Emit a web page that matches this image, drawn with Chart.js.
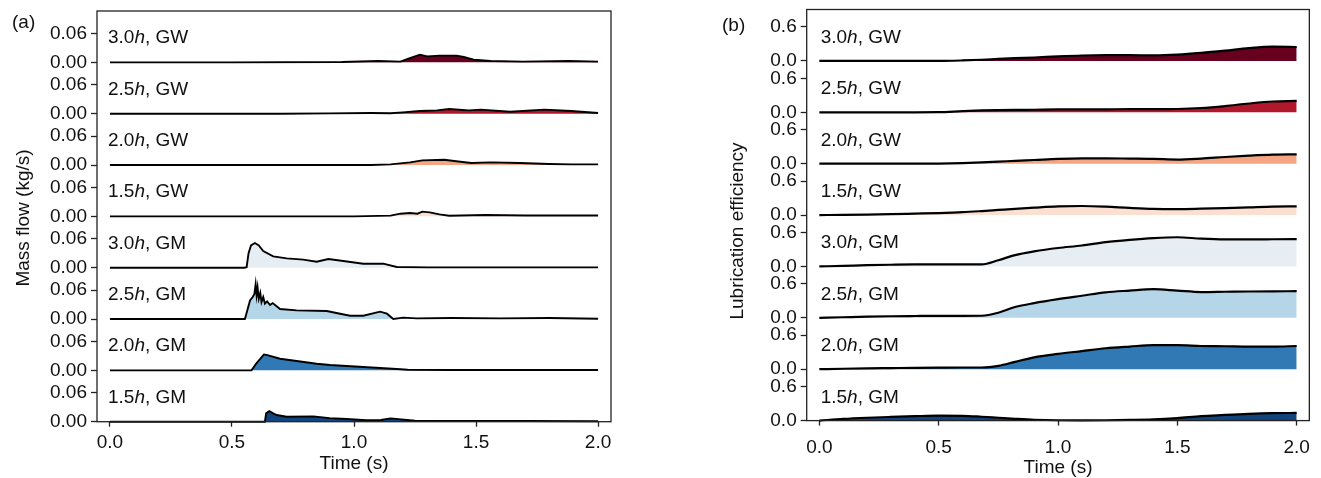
<!DOCTYPE html>
<html>
<head>
<meta charset="utf-8">
<script src="https://cdn.jsdelivr.net/npm/chart.js@4.4.1/dist/chart.umd.min.js"></script>
<style>
  html,body{margin:0;padding:0;background:#fff;}
  #wrap{position:relative;width:1321px;height:478px;overflow:hidden;}
  .panel{position:absolute;top:0;height:478px;}
  #pa{left:0;width:700px;}
  #pb{left:700px;width:621px;}
</style>
</head>
<body>
<div id="wrap">
  <div class="panel" id="pa"><canvas id="flowChart"></canvas></div>
  <div class="panel" id="pb"><canvas id="effChart"></canvas></div>
</div>
<script>
// rows from top to bottom
const rowCases=['3.0','2.5','2.0','1.5','3.0','2.5','2.0','1.5'];
const rowKinds=['GW','GW','GW','GW','GM','GM','GM','GM'];
const rowColors=['#67001f','#b2182b','#f4a582','#fbe0d1','#e6eef3','#b5d6e8','#3179b5','#12447f'];

const timeTicks=[0,0.5,1.0,1.5,2.0];
const flowTicks=[0,0.06];
const effTicks=[0,0.6];

// (a) mass flow (kg/s)
const flowGW30T=[0,0.5,0.95,1.1,1.19,1.22,1.25,1.27,1.3,1.35,1.42,1.45,1.49,1.56,1.69,1.88,2.0];
const flowGW30V=[0,0,0.0007,0.0028,0.0014,0.0069,0.0124,0.0159,0.0124,0.0138,0.0138,0.011,0.0055,0.0028,0.0014,0.0028,0.0014];
const flowGW25T=[0,0.7,0.9,1.07,1.15,1.2,1.27,1.34,1.39,1.47,1.52,1.64,1.78,1.89,2.0];
const flowGW25V=[0,0,0.0007,0.0014,0.001,0.0028,0.0055,0.0069,0.0097,0.0069,0.0083,0.0041,0.0083,0.0055,0.0014];
const flowGW20T=[0,1.07,1.15,1.23,1.28,1.37,1.41,1.48,1.56,1.68,1.8,1.89,2.0];
const flowGW20V=[0,0,0.0014,0.0055,0.0097,0.011,0.0083,0.0041,0.0055,0.0041,0.002,0.0014,0.0014];
const flowGW15T=[0,1.0,1.15,1.19,1.23,1.26,1.28,1.31,1.35,1.39,1.54,1.7,2.0];
const flowGW15V=[0,0,0.0014,0.0055,0.007,0.0055,0.0097,0.0083,0.0041,0.0014,0.0028,0.0017,0.0017];
const flowGM30T=[0,0.55,0.56,0.568,0.578,0.594,0.61,0.628,0.669,0.724,0.792,0.847,0.895,0.956,1.038,1.12,1.175,1.3,2.0];
const flowGM30V=[0,0,0.001,0.03,0.046,0.051,0.046,0.0345,0.0234,0.0193,0.0166,0.0124,0.018,0.0138,0.0083,0.0083,0.0014,0.0007,0.0007];
const flowGM25T=[0,0.553,0.563,0.574,0.585,0.592,0.597,0.601,0.605,0.61,0.616,0.621,0.628,0.635,0.644,0.656,0.667,0.697,0.765,0.888,0.943,0.984,1.038,1.107,1.135,1.161,1.202,1.257,1.4,1.6,1.8,2.0];
const flowGM25V=[0,0,0.018,0.0386,0.0455,0.052,0.0717,0.049,0.065,0.042,0.054,0.035,0.0455,0.032,0.0366,0.029,0.033,0.0207,0.018,0.0166,0.011,0.0069,0.0069,0.0152,0.011,0,0.0028,0.0014,0.0021,0.0014,0.0021,0.0007];
const flowGM20T=[0,0.58,0.601,0.631,0.645,0.697,0.765,0.847,0.902,1.038,1.175,1.22,1.4,2.0];
const flowGM20V=[0,0,0.0152,0.033,0.0317,0.024,0.0193,0.0138,0.011,0.0069,0.0028,0.0014,0.0007,0.0007];
const flowGM15T=[0,0.635,0.64,0.653,0.669,0.683,0.724,0.833,0.9,0.97,1.05,1.11,1.15,1.25,1.4,1.7,2.0];
const flowGM15V=[0,0,0.0172,0.022,0.0172,0.0138,0.0103,0.011,0.0075,0.0055,0.003,0.0034,0.0069,0.0021,0.0014,0.0014,0.001];

// (b) lubrication efficiency
const effT=[0,0.1,0.2,0.3,0.4,0.5,0.6,0.68,0.75,0.82,0.9,1.0,1.1,1.2,1.3,1.4,1.5,1.6,1.7,1.8,1.9,2.0];
const effGW30=[0,0,0,0,0,0,0.008,0.02,0.035,0.048,0.06,0.08,0.095,0.1,0.1,0.098,0.11,0.14,0.18,0.225,0.25,0.245];
const effGW25=[0,0,0,0,0,0.002,0.02,0.032,0.038,0.042,0.045,0.05,0.05,0.052,0.055,0.055,0.058,0.075,0.11,0.155,0.19,0.2];
const effGW20=[0,0,0,0,0,0.002,0.01,0.022,0.035,0.05,0.065,0.085,0.094,0.094,0.09,0.085,0.072,0.09,0.118,0.142,0.16,0.165];
const effGW15=[0,0.003,0.008,0.015,0.025,0.035,0.05,0.07,0.09,0.11,0.13,0.152,0.16,0.148,0.125,0.108,0.105,0.112,0.122,0.136,0.15,0.153];
const effGM30=[0,0.01,0.022,0.03,0.035,0.035,0.035,0.037,0.11,0.2,0.265,0.325,0.37,0.43,0.47,0.5,0.515,0.49,0.478,0.478,0.48,0.483];
const effGM25=[0,0.01,0.02,0.028,0.032,0.035,0.035,0.037,0.09,0.19,0.26,0.33,0.39,0.45,0.48,0.505,0.48,0.455,0.46,0.465,0.468,0.47];
const effGM20=[0,0.008,0.015,0.02,0.025,0.028,0.03,0.03,0.06,0.13,0.21,0.27,0.32,0.37,0.4,0.425,0.425,0.41,0.405,0.398,0.398,0.41];
const effGM15=[0,0.03,0.05,0.065,0.078,0.088,0.085,0.068,0.05,0.032,0.015,0.006,0.005,0.006,0.012,0.022,0.045,0.08,0.1,0.12,0.132,0.135];

const FONT='"Liberation Sans", Arial, Helvetica, sans-serif';
const FS=19;
const INK='#111';
const SPINE='#222';

function pairs(ts,vs){return ts.map((t,i)=>({x:t,y:vs[i]}));}

function makeDatasets(series,width,smooth){
  return series.map((s,i)=>({
    data:pairs(s[0],s[1]),
    xAxisID:'x',yAxisID:'y'+i,
    borderColor:'#000',borderWidth:width,
    backgroundColor:rowColors[i],
    fill:'origin',pointRadius:0,
    tension:0,cubicInterpolationMode:smooth?'monotone':'default',
    clip:4
  }));
}

// decorations: frame, row labels, axis titles, panel letter
function decor(cfg){
  return {
    id:'decor',
    afterDraw(chart){
      const ctx=chart.ctx, a=chart.chartArea;
      ctx.save();
      ctx.strokeStyle=SPINE; ctx.lineWidth=1.3;
      ctx.strokeRect(a.left,a.top,a.right-a.left,a.bottom-a.top);
      ctx.fillStyle=INK; ctx.textBaseline='alphabetic'; ctx.textAlign='left';
      const normal=FS+'px '+FONT, ital='italic '+FS+'px '+FONT;
      for(let i=0;i<8;i++){
        const y0=chart.scales['y'+i].getPixelForValue(0)-cfg.labelRise;
        let x=a.left+cfg.labelDx;
        ctx.font=normal; ctx.fillText(rowCases[i],x,y0); x+=ctx.measureText(rowCases[i]).width;
        ctx.font=ital; ctx.fillText('h',x,y0); x+=ctx.measureText('h').width;
        ctx.font=normal; ctx.fillText(', '+rowKinds[i],x,y0);
      }
      ctx.font=normal;
      ctx.fillText(cfg.letter,cfg.letterX,cfg.letterY);
      ctx.textAlign='center'; ctx.textBaseline='middle';
      ctx.fillText('Time (s)',chart.scales.x.getPixelForValue(1.0),cfg.xTitleY);
      ctx.translate(cfg.yTitleX,cfg.yTitleY); ctx.rotate(-Math.PI/2);
      ctx.fillText(cfg.yTitle,0,0);
      ctx.restore();
    }
  };
}

function makeOptions(cfg){
  const scales={
    x:{type:'linear',position:'bottom',min:-0.053,max:2.053,
      afterBuildTicks:ax=>{ax.ticks=timeTicks.map(v=>({value:v}));},
      afterFit:ax=>{ax.height=cfg.xHeight;},
      ticks:{callback:v=>Number(v).toFixed(1),autoSkip:false,maxRotation:0,padding:cfg.xPad,color:INK,font:{family:FONT,size:FS}},
      grid:{display:true,drawOnChartArea:false,drawTicks:true,tickLength:5,tickColor:SPINE,tickWidth:1.3},
      border:{display:false}}
  };
  // stacked row axes: the last one defined sits on top
  for(let i=7;i>=0;i--){
    scales['y'+i]={type:'linear',position:'left',stack:'rows',stackWeight:1,offset:false,
      min:0,max:cfg.rowTop,
      afterBuildTicks:ax=>{ax.ticks=cfg.ticks.map(v=>({value:v}));},
      afterFit:ax=>{ax.width=cfg.yWidth;ax.paddingTop=0;ax.paddingBottom=0;},
      ticks:{callback:v=>Number(v).toFixed(cfg.digits),autoSkip:false,padding:4,color:INK,font:{family:FONT,size:FS}},
      grid:{display:true,drawOnChartArea:false,drawTicks:true,tickLength:6,tickColor:SPINE,tickWidth:1.3},
      border:{display:false}};
  }
  return {
    responsive:true,maintainAspectRatio:false,animation:false,events:[],
    layout:{padding:cfg.pad},
    plugins:{legend:{display:false},tooltip:{enabled:false}},
    scales
  };
}

const flowSeries=[[flowGW30T,flowGW30V],[flowGW25T,flowGW25V],[flowGW20T,flowGW20V],[flowGW15T,flowGW15V],
  [flowGM30T,flowGM30V],[flowGM25T,flowGM25V],[flowGM20T,flowGM20V],[flowGM15T,flowGM15V]];
const effSeries=[effGW30,effGW25,effGW20,effGW15,effGM30,effGM25,effGM20,effGM15].map(v=>[effT,v]);

const cfgA={rowTop:0.1063,ticks:flowTicks,digits:2,yWidth:60,xHeight:56.3,xPad:5,
  pad:{left:37,right:89,top:11,bottom:0},
  labelDx:11,labelRise:19,letter:'(a)',letterX:12,letterY:28,
  xTitleY:464,yTitle:'Mass flow (kg/s)',yTitleX:24,yTitleY:218};
const cfgB={rowTop:0.907,ticks:effTicks,digits:1,yWidth:60,xHeight:57.4,xPad:11,
  pad:{left:46.7,right:4.3,top:9.5,bottom:0},
  labelDx:14,labelRise:18,letter:'(b)',letterX:22,letterY:31,
  xTitleY:468,yTitle:'Lubrication efficiency',yTitleX:38,yTitleY:231};

new Chart(document.getElementById('flowChart'),{
  type:'line',
  data:{datasets:makeDatasets(flowSeries,1.9,false)},
  options:makeOptions(cfgA),
  plugins:[decor(cfgA)]
});
new Chart(document.getElementById('effChart'),{
  type:'line',
  data:{datasets:makeDatasets(effSeries,2.2,true)},
  options:makeOptions(cfgB),
  plugins:[decor(cfgB)]
});
</script>
</body>
</html>
